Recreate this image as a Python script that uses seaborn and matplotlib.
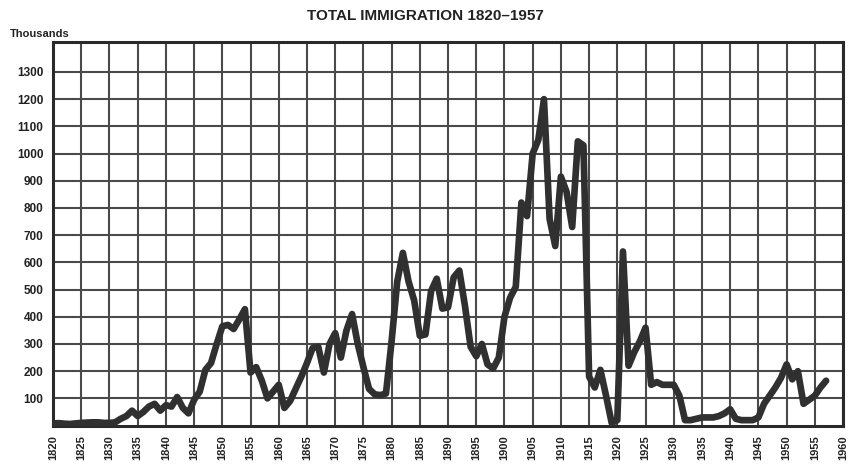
import matplotlib
matplotlib.use("Agg")
import matplotlib.pyplot as plt
import seaborn as sns
import pandas as pd
import numpy as np

# Annual immigration, thousands
years = list(range(1820, 1958))
immigrants = [
    8, 9, 7, 6, 8, 10, 11, 12, 12, 10,            # 1820-1829
    10, 12, 25, 35, 55, 35, 50, 70, 80, 55,       # 1830-1839
    75, 70, 105, 65, 45, 95, 125, 205, 230, 300,  # 1840-1849
    365, 370, 355, 390, 428, 195, 215, 165, 100, 125,  # 1850-1859
    150, 65, 90, 135, 180, 230, 285, 290, 195, 300,    # 1860-1869
    340, 250, 350, 410, 300, 215, 135, 115, 112, 118,  # 1870-1879
    310, 530, 635, 530, 460, 330, 335, 495, 540, 430,  # 1880-1889
    435, 545, 570, 440, 290, 255, 300, 225, 210, 250,  # 1890-1899
    400, 470, 510, 820, 770, 1000, 1050, 1200, 760, 660,  # 1900-1909
    915, 860, 730, 1045, 1030, 180, 140, 205, 110, 10,    # 1910-1919
    20, 640, 220, 270, 310, 360, 150, 160, 150, 150,      # 1920-1929
    150, 110, 20, 20, 25, 30, 30, 30, 35, 45,             # 1930-1939
    60, 25, 20, 20, 20, 30, 80, 110, 140, 175,            # 1940-1949
    225, 170, 200, 80, 95, 110, 140, 165,                 # 1950-1957
]
df = pd.DataFrame({"Year": years, "Thousands": immigrants})

x_ticks = list(range(1820, 1961, 5))
y_ticks = list(range(100, 1301, 100))

sns.set_style("white")
plt.rcParams['font.family'] = ['Liberation Sans', 'DejaVu Sans']

fig = plt.figure(figsize=(8.5, 4.71), dpi=100)
ax = fig.add_axes([0.0624, 0.0964, 0.9294, 0.8144])

sns.lineplot(data=df, x="Year", y="Thousands", ax=ax, color="#303030",
             linewidth=4.8, solid_joinstyle="round", solid_capstyle="round",
             zorder=3)

ax.set_xlim(1820, 1960)
ax.set_ylim(0, 1410)
ax.set_xticks(x_ticks)
ax.set_yticks(y_ticks)
ax.set_xticklabels([str(t) for t in x_ticks], rotation=90, fontsize=8,
                   fontweight="bold", color="#222222")
ax.set_yticklabels([str(t) for t in y_ticks], fontsize=8.5,
                   fontweight="bold", color="#222222")
ax.tick_params(axis="both", length=0, pad=7)
ax.grid(True, color="#4a4a4a", linewidth=1.5, zorder=1)
ax.set_axisbelow(True)
for side in ax.spines.values():
    side.set_color("#2a2a2a")
    side.set_linewidth(2.2)

ax.set_xlabel("")
ax.set_ylabel("")
fig.text(0.5, 0.965, "TOTAL IMMIGRATION 1820\u20131957", ha="center", va="center",
         fontsize=11, fontweight="bold", color="#222222")
fig.text(0.012, 0.928, "Thousands", ha="left", va="center",
         fontsize=8, fontweight="bold", color="#222222")

fig.savefig("out.png", dpi=100)
